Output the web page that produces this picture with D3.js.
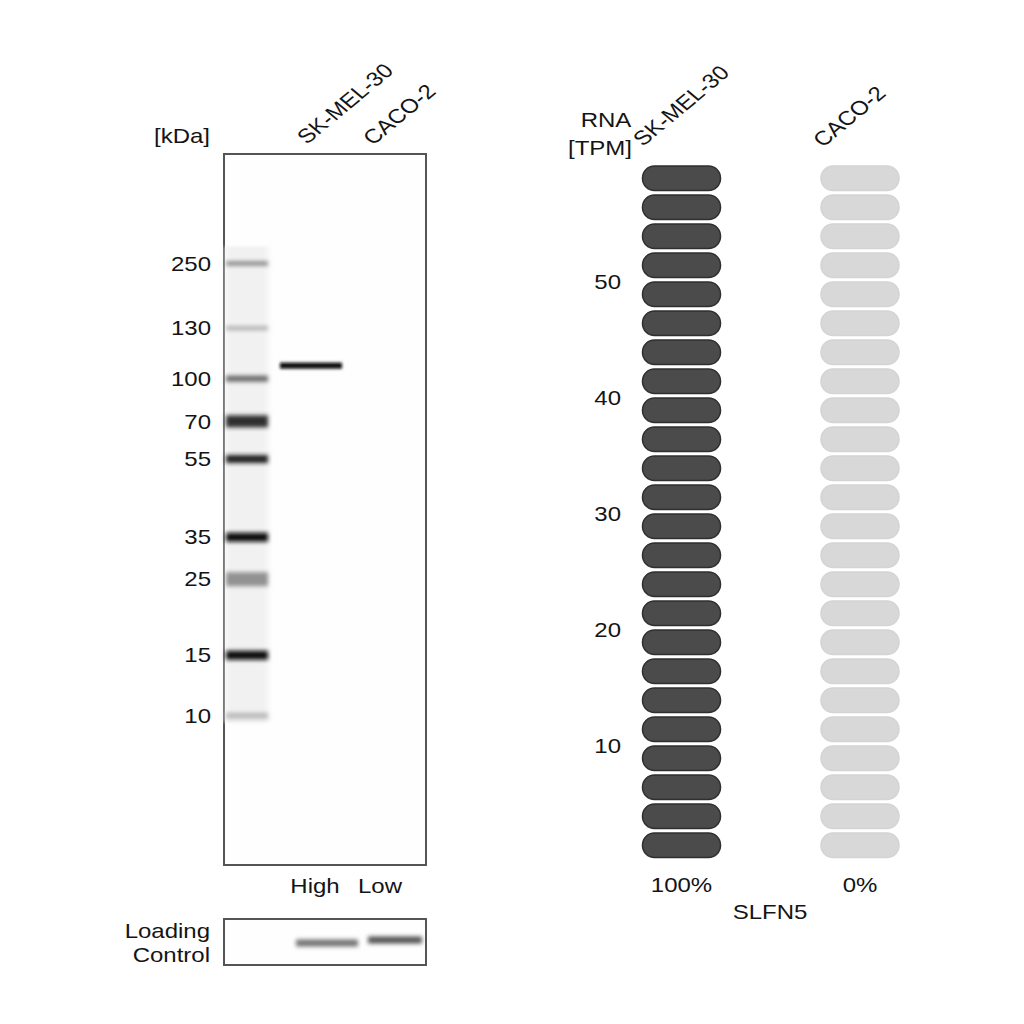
<!DOCTYPE html>
<html><head><meta charset="utf-8">
<script src="https://cdn.jsdelivr.net/npm/d3@7"></script>
<style>body{margin:0;background:#fff}text{font-family:"Liberation Sans",Arial,sans-serif;fill:#141414}</style>
</head><body>
<svg id="c" width="1024" height="1024"></svg>
<script>
// ---- data ----
const wbSamples = ["SK-MEL-30", "CACO-2"];
const wbLaneLabels = ["High", "Low"];
const markerKDa = [250, 130, 100, 70, 55, 35, 25, 15, 10];
const markerRf = [0.154, 0.245, 0.316, 0.376, 0.429, 0.539, 0.598, 0.705, 0.790];
const markerIntensity = [0.5, 0.3, 0.6, 0.85, 0.9, 1.0, 0.42, 1.0, 0.25];
const markerWidth = [4, 4, 6, 12, 8, 9, 14, 9, 6];
const sampleBandKDa = [107, null];
const sampleBandIntensity = [1.0, 0];
const loadingIntensity = [0.55, 0.68];
const rnaSamples = ["SK-MEL-30", "CACO-2"];
const rnaTPM = [60, 0];
const rnaPercent = ["100%", "0%"];
const rnaTicks = [10, 20, 30, 40, 50];
const rnaMax = 60, rnaPillCount = 24;
const gene = "SLFN5";

const FS = 20, SX = 1.2;
function txt(parent, x, y, s, anchor, rot) {
  return parent.append("text")
    .attr("transform", `translate(${x},${y}) scale(${SX},1)` + (rot ? ` rotate(${rot})` : ""))
    .attr("dy", rot ? null : "0.36em")
    .attr("text-anchor", anchor || "start").attr("font-size", FS).text(s);
}

const svg = d3.select("#c");
const defs = svg.append("defs");
defs.append("filter").attr("id","blur").attr("x","-20%").attr("y","-100%").attr("width","140%").attr("height","300%")
  .append("feGaussianBlur").attr("stdDeviation","1.6 1.4");
defs.append("filter").attr("id","blurB").attr("x","-20%").attr("y","-100%").attr("width","140%").attr("height","300%")
  .append("feGaussianBlur").attr("stdDeviation","2.2 2");
defs.append("filter").attr("id","blur2").attr("x","-20%").attr("y","-100%").attr("width","140%").attr("height","300%")
  .append("feGaussianBlur").attr("stdDeviation","3 1.5");

// ---- western blot ----
const gel = {x0: 224, x1: 426, y0: 154, y1: 865};
const rfY = d3.scaleLinear().domain([0, 1]).range([gel.y0, gel.y1]);
const kdaRf = d3.scaleLog().domain(markerKDa).range(markerRf);
const laneX = d3.scaleOrdinal().domain(["ladder", ...wbSamples]).range([[226,268],[280,342],[350,412]]);
const shade = d3.interpolateRgb("#f4f4f4", "#0a0a0a");

const g = svg.append("g");
g.append("rect").attr("x", gel.x0).attr("y", gel.y0).attr("width", gel.x1-gel.x0).attr("height", gel.y1-gel.y0)
  .attr("fill","#fefefe").attr("stroke","#555").attr("stroke-width",2);
g.append("rect").attr("x",226).attr("y",rfY(0.13)).attr("width",42).attr("height",rfY(0.8)-rfY(0.13))
  .attr("fill","#f1f1f1").attr("filter","url(#blur2)");
g.selectAll(".mk").data(markerKDa).join("rect")
  .attr("x", laneX("ladder")[0]).attr("width", laneX("ladder")[1]-laneX("ladder")[0])
  .attr("y", (d,i)=>rfY(markerRf[i]) - markerWidth[i]/2).attr("height",(d,i)=>markerWidth[i])
  .attr("fill",(d,i)=>shade(markerIntensity[i])).attr("filter","url(#blurB)");
markerKDa.forEach((d,i)=> txt(g, 211, rfY(markerRf[i]), d, "end"));
txt(g, 182, 136, "[kDa]", "middle");
wbSamples.forEach((s,i)=>{
  if (sampleBandKDa[i] == null) return;
  const y = rfY(kdaRf(sampleBandKDa[i]));
  g.append("rect").attr("x", laneX(s)[0]).attr("width", laneX(s)[1]-laneX(s)[0])
    .attr("y", y-3).attr("height",6).attr("fill",shade(sampleBandIntensity[i])).attr("filter","url(#blur)");
});
const hdrPos = [[307,145],[373,146]];
wbSamples.forEach((s,i)=> txt(g, hdrPos[i][0], hdrPos[i][1], s, "start", -45));
const lvlX = [315, 380];
wbLaneLabels.forEach((t,i)=> txt(g, lvlX[i], 886, t, "middle"));
// loading control
const lc = {y0: 919, y1: 965};
g.append("rect").attr("x",gel.x0).attr("y",lc.y0).attr("width",gel.x1-gel.x0).attr("height",lc.y1-lc.y0)
  .attr("fill","#fefefe").attr("stroke","#555").attr("stroke-width",2);
const lcX = [[296,358],[368,422]];
const lcY = [943, 940];
wbSamples.forEach((s,i)=>{
  g.append("rect").attr("x",lcX[i][0]).attr("width",lcX[i][1]-lcX[i][0]).attr("y",lcY[i]-3.5).attr("height",7)
   .attr("fill",shade(loadingIntensity[i])).attr("filter","url(#blurB)");
});
txt(g, 210, 931, "Loading", "end");
txt(g, 210, 955, "Control", "end");

// ---- RNA pills ----
const r = svg.append("g");
const y = d3.scaleLinear().domain([0, rnaMax]).range([862, 166]);
const x = d3.scalePoint().domain(rnaSamples).range([681.5, 860]);
const pillW = 78, step = rnaMax / rnaPillCount;
const pillH = (y(0) - y(step)) - 4.5;
const pills = d3.range(rnaPillCount).map(k => k * step);
rnaSamples.forEach((s,i)=>{
  r.selectAll(".p"+i).data(pills).join("rect")
    .attr("x", x(s)-pillW/2).attr("width", pillW)
    .attr("y", d => y(d+step)).attr("height", pillH)
    .attr("rx", 12).attr("ry", 12)
    .attr("fill", d => (d + step/2) <= rnaTPM[i] ? "#4b4b4b" : "#d8d8d8")
    .attr("stroke", d => (d + step/2) <= rnaTPM[i] ? "#2f2f2f" : "#d4d4d4")
    .attr("stroke-width", 1.5);
  txt(r, x(s), 885, rnaPercent[i], "middle");
});
rnaTicks.forEach(d => txt(r, 621, y(d), d, "end"));
txt(r, 606, 120, "RNA", "middle");
txt(r, 600, 148, "[TPM]", "middle");
const rHdr = [[643,147],[823,148]];
rnaSamples.forEach((s,i)=> txt(r, rHdr[i][0], rHdr[i][1], s, "start", -45));
txt(r, 770, 912, gene, "middle");
</script>
</body></html>
